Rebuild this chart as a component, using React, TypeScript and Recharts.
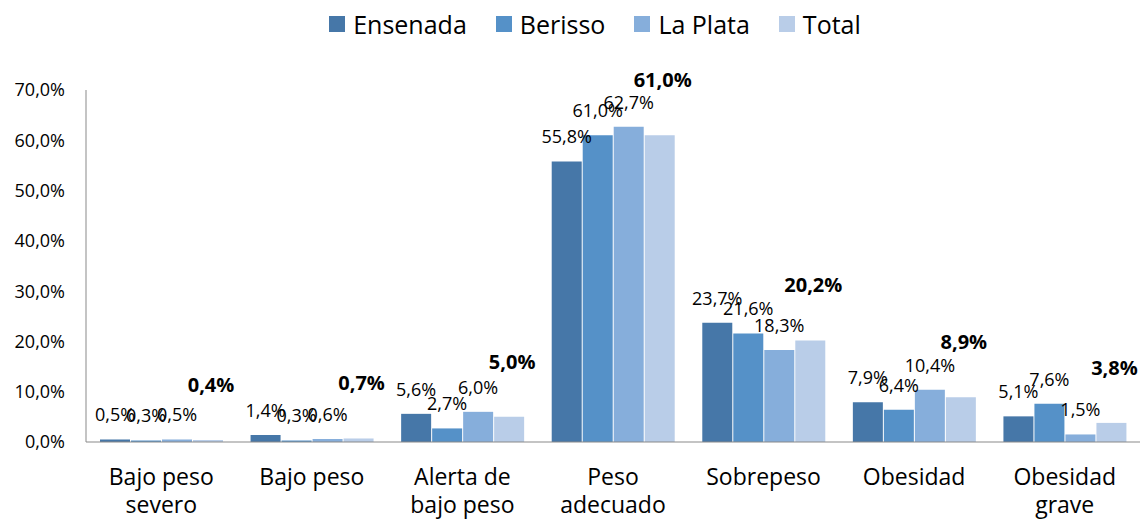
import { BarChart, Bar, XAxis, YAxis, Legend, LabelList } from "recharts";

const categories = [
    "Bajo peso severo",
    "Bajo peso",
    "Alerta de bajo peso",
    "Peso adecuado",
    "Sobrepeso",
    "Obesidad",
    "Obesidad grave",
];
const tickLines = [
    ["Bajo peso", "severo"],
    ["Bajo peso"],
    ["Alerta de", "bajo peso"],
    ["Peso", "adecuado"],
    ["Sobrepeso"],
    ["Obesidad"],
    ["Obesidad", "grave"],
];
const ensenada = [0.5, 1.4, 5.6, 55.8, 23.7, 7.9, 5.1];
const berisso = [0.3, 0.3, 2.7, 61.0, 21.6, 6.4, 7.6];
const laPlata = [0.5, 0.6, 6.0, 62.7, 18.3, 10.4, 1.5];
const total = [0.4, 0.7, 5.0, 61.0, 20.2, 8.9, 3.8];
const yTicks = [0, 10, 20, 30, 40, 50, 60, 70];

const series = [
    { key: "Ensenada", color: "#4677A8" },
    { key: "Berisso", color: "#5591C8" },
    { key: "La Plata", color: "#86AEDB" },
    { key: "Total", color: "#B9CDE8" },
];

const data = categories.map((c, i) => ({
    name: c,
    Ensenada: ensenada[i],
    Berisso: berisso[i],
    "La Plata": laPlata[i],
    Total: total[i],
}));

const FONT = "'Open Sans', sans-serif";
const pct = (v: number) => v.toFixed(1).replace(".", ",") + "%";

function ValueLabel(props: any) {
    const { x, y, width, value } = props;
    return (
        <text x={x + width / 2} y={y - 18} textAnchor="middle" fontFamily={FONT} fontSize={18} fill="#000">
            {pct(value)}
        </text>
    );
}

function TotalLabel(props: any) {
    const { x, y, width, value } = props;
    return (
        <text x={x + width / 2 + 3} y={y - 48} textAnchor="middle" fontFamily={FONT} fontSize={20} fontWeight="bold" fill="#000">
            {pct(value)}
        </text>
    );
}

function CategoryTick(props: any) {
    const { x, y, payload } = props;
    const lines = tickLines[payload.index] || [payload.value];
    return (
        <text x={x} y={y} textAnchor="middle" fontFamily={FONT} fontSize={23} fill="#000">
            {lines.map((l, i) => (
                <tspan key={i} x={x} dy={i === 0 ? 43 : 28}>
                    {l}
                </tspan>
            ))}
        </text>
    );
}

function LegendBox() {
    return (
        <div
            style={{
                display: "flex",
                justifyContent: "center",
                alignItems: "center",
                gap: 29,
                height: 40,
                paddingLeft: 50,
                boxSizing: "border-box",
                fontFamily: FONT,
                fontSize: 25,
                color: "#000",
            }}
        >
            {series.map((s) => (
                <div key={s.key} style={{ display: "flex", alignItems: "center" }}>
                    <span style={{ width: 16, height: 16, background: s.color, marginRight: 8, display: "inline-block" }} />
                    <span>{s.key}</span>
                </div>
            ))}
        </div>
    );
}

export default function App() {
    return (
        <div style={{ position: "absolute", left: 0, top: 0, width: 1140, height: 520, background: "#fff" }}>
            <BarChart
                width={1140}
                height={520}
                data={data}
                margin={{ top: 50, right: 0, left: 0, bottom: 0 }}
                barCategoryGap={14}
                barGap={1}
            >
                <Legend
                    verticalAlign="top"
                    height={40}
                    wrapperStyle={{ top: 4, left: 0, width: 1140, height: 40 }}
                    content={() => <LegendBox />}
                />
                <XAxis
                    dataKey="name"
                    height={78}
                    stroke="#898989"
                    tickLine={false}
                    tickSize={0}
                    tickMargin={0}
                    interval={0}
                    tick={<CategoryTick />}
                />
                <YAxis
                    width={86}
                    domain={[0, 70]}
                    ticks={yTicks}
                    stroke="#898989"
                    tickLine={false}
                    tickSize={0}
                    tickMargin={21}
                    tick={{ fontFamily: FONT, fontSize: 18, fill: "#000" }}
                    tickFormatter={pct}
                />
                {series.map((s) => (
                    <Bar key={s.key} dataKey={s.key} fill={s.color} isAnimationActive={false}>
                        <LabelList dataKey={s.key} content={s.key === "Total" ? <TotalLabel /> : <ValueLabel />} />
                    </Bar>
                ))}
            </BarChart>
        </div>
    );
}
